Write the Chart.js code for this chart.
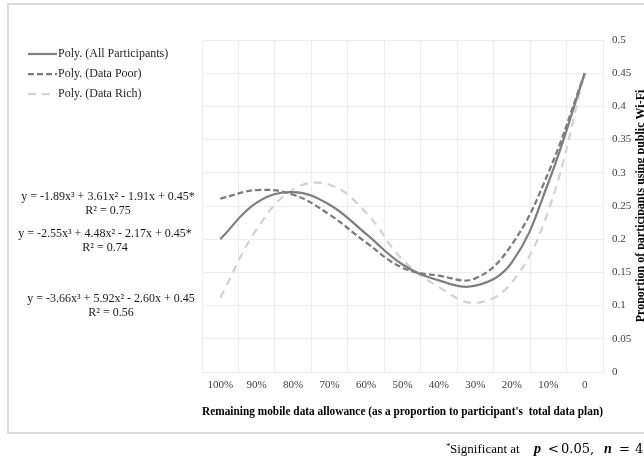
<!DOCTYPE html>
<html>
<head>
<meta charset="utf-8">
<script src="https://cdn.jsdelivr.net/npm/chart.js@4.4.1/dist/chart.umd.min.js"></script>
<style>
  html, body { margin: 0; padding: 0; background: #fff; }
  #wrap { width: 644px; height: 460px; overflow: hidden; }
</style>
</head>
<body>
<div id="wrap"><canvas id="myChart" width="644" height="460"></canvas></div>
<script>
// values at each category
const categories = ['100%', '90%', '80%', '70%', '60%', '50%', '40%', '30%', '20%', '10%', '0'];
const allParticipants = [0.200, 0.255, 0.271, 0.252, 0.208, 0.162, 0.138, 0.130, 0.165, 0.285, 0.450];
const dataPoor = [0.261, 0.274, 0.267, 0.237, 0.195, 0.157, 0.145, 0.141, 0.192, 0.300, 0.450];
const dataRich = [0.112, 0.215, 0.275, 0.282, 0.240, 0.169, 0.128, 0.104, 0.135, 0.243, 0.450];
const seriesNames = ['Poly. (All Participants)', 'Poly. (Data Poor)', 'Poly. (Data Rich)'];
const equations = [
  ['y = -1.89x\u00B3 + 3.61x\u00B2 - 1.91x + 0.45*', 'R\u00B2 = 0.75'],
  ['y = -2.55x\u00B3 + 4.48x\u00B2 - 2.17x + 0.45*', 'R\u00B2 = 0.74'],
  ['y = -3.66x\u00B3 + 5.92x\u00B2 - 2.60x + 0.45', 'R\u00B2 = 0.56']
];
const yMin = 0, yMax = 0.5, yStep = 0.05;
const xTitle = "Remaining mobile data allowance (as a proportion to participant's  total data plan)";
const yTitle = 'Proportion of participants using public Wi-Fi';

Chart.defaults.font.family = "'Liberation Serif', 'Times New Roman', serif";
Chart.defaults.color = '#404040';

const extras = {
  id: 'extras',
  beforeDraw(chart) {
    const c = chart.ctx;
    c.save();
    c.fillStyle = '#fff';
    c.fillRect(0, 0, chart.width, chart.height);
    c.strokeStyle = '#dcdcdc';
    c.lineWidth = 2;
    c.strokeRect(8, 4, 700, 429);
    c.restore();
  },
  afterDraw(chart) {
    const c = chart.ctx;
    c.save();
    // legend
    c.font = "12px 'Liberation Serif'";
    c.textBaseline = 'middle';
    chart.data.datasets.forEach((ds, i) => {
      const y = 54 + i * 20;
      c.strokeStyle = ds.borderColor;
      c.lineWidth = ds.borderWidth;
      c.setLineDash(ds.borderDash || []);
      c.beginPath();
      c.moveTo(28, y);
      c.lineTo(57, y);
      c.stroke();
      c.setLineDash([]);
      c.fillStyle = '#262626';
      c.textAlign = 'left';
      c.fillText(ds.label, 58, y);
    });
    // trendline equations
    const eqY = [197, 234, 299];
    const eqX = [108, 105, 111];
    c.textAlign = 'center';
    c.fillStyle = '#1a1a1a';
    equations.forEach((eq, i) => {
      c.fillText(eq[0], eqX[i], eqY[i]);
      c.fillText(eq[1], eqX[i], eqY[i] + 14);
    });
    // y axis title (reads bottom to top)
    c.translate(641, (chart.chartArea.top + chart.chartArea.bottom) / 2);
    c.rotate(-Math.PI / 2);
    c.font = "bold 12px 'Liberation Serif'";
    c.fillStyle = '#000';
    c.fillText(yTitle, 0, 0);
    c.setTransform(1, 0, 0, 1, 0, 0);
    // footnote
    c.textAlign = 'left';
    c.textBaseline = 'alphabetic';
    c.fillStyle = '#000';
    c.font = "9px 'Liberation Serif'";
    c.fillText('*', 446, 449);
    c.font = "13px 'Liberation Serif'";
    c.fillText('Significant at', 450, 453);
    c.font = "italic bold 14px 'Liberation Serif'";
    c.fillText('p', 534, 453);
    c.fillText('n', 604, 453);
    c.font = "13px 'DejaVu Serif'";
    c.fillText('<', 548, 453);
    c.fillText('=', 619, 453);
    c.fillText('0.05,', 561, 453);
    c.fillText('45', 635, 453);
    c.restore();
  }
};

const ctx = document.getElementById('myChart');
const chart = new Chart(ctx, {
  type: 'line',
  data: {
    labels: categories,
    datasets: [{
      label: seriesNames[0],
      data: allParticipants,
      borderColor: '#7f7f7f',
      borderWidth: 2.25,
      tension: 0.4,
      pointRadius: 0
    }, {
      label: seriesNames[1],
      data: dataPoor,
      borderColor: '#7b7b7b',
      borderWidth: 2.25,
      borderDash: [6, 3],
      tension: 0.4,
      pointRadius: 0
    }, {
      label: seriesNames[2],
      data: dataRich,
      borderColor: '#d3d3d3',
      borderWidth: 2.25,
      borderDash: [8, 6],
      tension: 0.4,
      pointRadius: 0
    }]
  },
  options: {
    responsive: false,
    animation: false,
    layout: { padding: { left: 202, top: 40, right: 0, bottom: 39 } },
    scales: {
      x: {
        type: 'category',
        offset: true,
        grid: { offset: true, color: '#ededed', drawTicks: false },
        border: { color: '#ededed' },
        ticks: { padding: 7, maxRotation: 0, autoSkip: false, font: { size: 11 }, color: '#404040' },
        title: {
          display: true,
          text: xTitle,
          color: '#000',
          font: { size: 12, weight: 'bold' },
          padding: { top: 0, bottom: 2 }
        },
        afterFit(scale) { scale.height = 49; }
      },
      y: {
        position: 'right',
        min: yMin,
        max: yMax,
        grid: { color: '#ededed', drawTicks: false },
        border: { display: false },
        ticks: {
          stepSize: yStep,
          padding: 9,
          font: { size: 11 },
          color: '#404040',
          callback: v => String(+v.toFixed(2))
        },
        afterFit(scale) { scale.width = 41; }
      }
    },
    plugins: {
      legend: { display: false },
      tooltip: { enabled: false }
    }
  },
  plugins: [extras]
});
</script>
</body>
</html>
